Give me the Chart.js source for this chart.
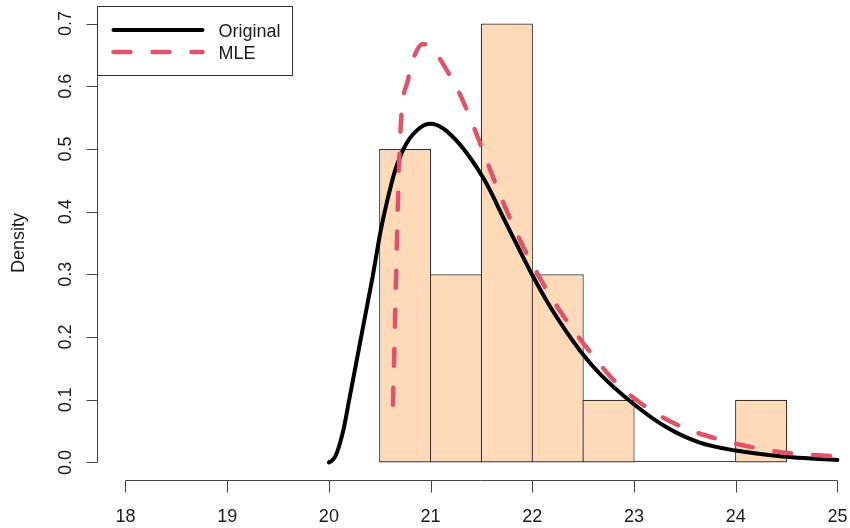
<!DOCTYPE html>
<html>
<head>
<meta charset="utf-8">
<script src="https://cdn.jsdelivr.net/npm/chart.js@4"></script>
<style>
  html, body { margin: 0; padding: 0; background: #fff; }
  #wrap { width: 850px; height: 528px; position: relative; }
</style>
</head>
<body>
<div id="wrap"><canvas id="chart"></canvas></div>
<script>
// histogram bins (centres, width 0.5) and densities
const binCenters = [20.75, 21.25, 21.75, 22.25, 22.75, 23.25, 23.75, 24.25];
const binDensity = [0.5, 0.3, 0.7, 0.3, 0.1, 0, 0, 0.1];

// "Original" density curve
const originalX = [20.0, 20.03, 20.07, 20.14, 20.2, 20.33, 20.43, 20.51, 20.6, 20.66, 20.76, 20.89, 21.0, 21.12, 21.25, 21.38, 21.51, 21.61, 21.68, 21.84, 22.0, 22.17, 22.33, 22.5, 22.66, 22.99, 23.32, 23.64, 24.0, 24.46, 25.0];
const originalY = [0.0, 0.003, 0.012, 0.05, 0.1, 0.211, 0.296, 0.37, 0.435, 0.47, 0.508, 0.533, 0.54, 0.533, 0.514, 0.488, 0.456, 0.426, 0.402, 0.35, 0.299, 0.25, 0.21, 0.172, 0.142, 0.094, 0.056, 0.032, 0.019, 0.0096, 0.004];

// "MLE" density curve
const mleX = [20.63, 20.7, 20.78, 20.84, 20.92, 20.99, 21.07, 21.15, 21.25, 21.32, 21.42, 21.55, 21.68, 21.84, 22.0, 22.2, 22.4, 22.6, 22.82, 23.15, 23.48, 23.81, 24.14, 24.46, 25.0];
const mleY = [0.092, 0.515, 0.612, 0.648, 0.667, 0.665, 0.649, 0.628, 0.6, 0.576, 0.537, 0.482, 0.428, 0.368, 0.316, 0.26, 0.212, 0.17, 0.128, 0.085, 0.056, 0.038, 0.025, 0.016, 0.0096];

const xTicks = [18, 19, 20, 21, 22, 23, 24, 25];
const yTicks = [0, 0.1, 0.2, 0.3, 0.4, 0.5, 0.6, 0.7];
const legendLabels = ["Original", "MLE"];

const FONT = '18px "Liberation Sans", Arial, sans-serif';
const INK = "#1a1a1a";

const rAxes = {
  id: "rAxes",
  beforeDatasetsDraw(chart) {
    // zero-height bins still show as a line on the baseline
    const { ctx, scales: { x, y } } = chart;
    const y0 = Math.round(y.getPixelForValue(0)) - 0.5;
    ctx.save();
    ctx.strokeStyle = "#444";
    ctx.lineWidth = 1;
    ctx.beginPath();
    ctx.moveTo(x.getPixelForValue(binCenters[0] - 0.25), y0);
    ctx.lineTo(x.getPixelForValue(binCenters[binCenters.length - 1] + 0.25), y0);
    ctx.stroke();
    ctx.restore();
  },
  afterDraw(chart) {
    const { ctx, chartArea, scales: { x, y } } = chart;
    ctx.save();
    ctx.strokeStyle = "#444";
    ctx.lineWidth = 1;
    ctx.fillStyle = INK;
    ctx.font = FONT;

    // x axis
    const xb = Math.round(chartArea.bottom) + 0.5;
    ctx.beginPath();
    ctx.moveTo(x.getPixelForValue(xTicks[0]), xb);
    ctx.lineTo(x.getPixelForValue(xTicks[xTicks.length - 1]), xb);
    xTicks.forEach((v) => {
      const px = Math.round(x.getPixelForValue(v)) + 0.5;
      ctx.moveTo(px, xb);
      ctx.lineTo(px, xb + 12);
    });
    ctx.stroke();
    ctx.textAlign = "center";
    ctx.textBaseline = "alphabetic";
    xTicks.forEach((v) => ctx.fillText(String(v), x.getPixelForValue(v), 522));

    // y axis
    const yl = Math.round(chartArea.left) + 0.5;
    ctx.beginPath();
    ctx.moveTo(yl, y.getPixelForValue(yTicks[0]));
    ctx.lineTo(yl, y.getPixelForValue(yTicks[yTicks.length - 1]));
    yTicks.forEach((v) => {
      const py = Math.round(y.getPixelForValue(v)) + 0.5;
      ctx.moveTo(yl, py);
      ctx.lineTo(yl - 11, py);
    });
    ctx.stroke();
    yTicks.forEach((v) => {
      ctx.save();
      ctx.translate(71, y.getPixelForValue(v));
      ctx.rotate(-Math.PI / 2);
      ctx.fillText(v.toFixed(1), 0, 0);
      ctx.restore();
    });

    // axis title
    ctx.save();
    ctx.translate(24, (chartArea.top + chartArea.bottom) / 2);
    ctx.rotate(-Math.PI / 2);
    ctx.fillText("Density", 0, 0);
    ctx.restore();

    // legend box, top-left of the plot region
    const lx = Math.round(chartArea.left) + 0.5;
    const ly = Math.round(chartArea.top) + 0.5;
    ctx.fillStyle = "#fff";
    ctx.fillRect(lx, ly, 195, 69);
    ctx.strokeStyle = "#333";
    ctx.strokeRect(lx, ly, 195, 69);
    [1, 2].forEach((di, i) => {
      const ds = chart.data.datasets[di];
      const ry = ly + 23.5 + i * 22;
      ctx.save();
      ctx.strokeStyle = ds.borderColor;
      ctx.lineWidth = ds.borderWidth;
      ctx.lineCap = ds.borderCapStyle || "butt";
      ctx.setLineDash(ds.borderDash || []);
      ctx.beginPath();
      ctx.moveTo(lx + 16, ry);
      ctx.lineTo(lx + 105, ry);
      ctx.stroke();
      ctx.restore();
      ctx.fillStyle = INK;
      ctx.textAlign = "left";
      ctx.fillText(legendLabels[i], lx + 121, ry + 6.5);
    });
    ctx.restore();
  }
};

new Chart(document.querySelector("#chart"), {
  type: "bar",
  data: {
    datasets: [
      {
        type: "bar",
        data: binCenters.map((c, i) => ({ x: c, y: binDensity[i] })),
        backgroundColor: "#FFDAB9",
        borderColor: "#333",
        borderWidth: 1.2,
        borderSkipped: false,
        barPercentage: 1.024,
        categoryPercentage: 1,
        order: 3
      },
      {
        type: "line",
        data: originalX.map((v, i) => ({ x: v, y: originalY[i] })),
        borderColor: "#000",
        borderWidth: 4,
        borderCapStyle: "round",
        borderJoinStyle: "round",
        pointRadius: 0,
        fill: false,
        cubicInterpolationMode: "monotone",
        order: 2
      },
      {
        type: "line",
        data: mleX.map((v, i) => ({ x: v, y: mleY[i] })),
        borderColor: "#DF536B",
        borderWidth: 4.5,
        borderCapStyle: "round",
        borderJoinStyle: "round",
        borderDash: [17, 22],
        pointRadius: 0,
        fill: false,
        cubicInterpolationMode: "monotone",
        order: 1
      }
    ]
  },
  options: {
    responsive: true,
    maintainAspectRatio: false,
    animation: false,
    layout: { padding: { left: 97, top: 6, right: 0, bottom: 48 } },
    plugins: { legend: { display: false }, tooltip: { enabled: false } },
    scales: {
      x: {
        type: "linear", display: false, offset: false, min: 17.72, max: 25.124,
        afterBuildTicks: (s) => { s.ticks = xTicks.map((v) => ({ value: v })); }
      },
      y: {
        type: "linear", display: false, min: -0.028, max: 0.728,
        afterBuildTicks: (s) => { s.ticks = yTicks.map((v) => ({ value: v })); }
      }
    }
  },
  plugins: [rAxes]
});
</script>
</body>
</html>
